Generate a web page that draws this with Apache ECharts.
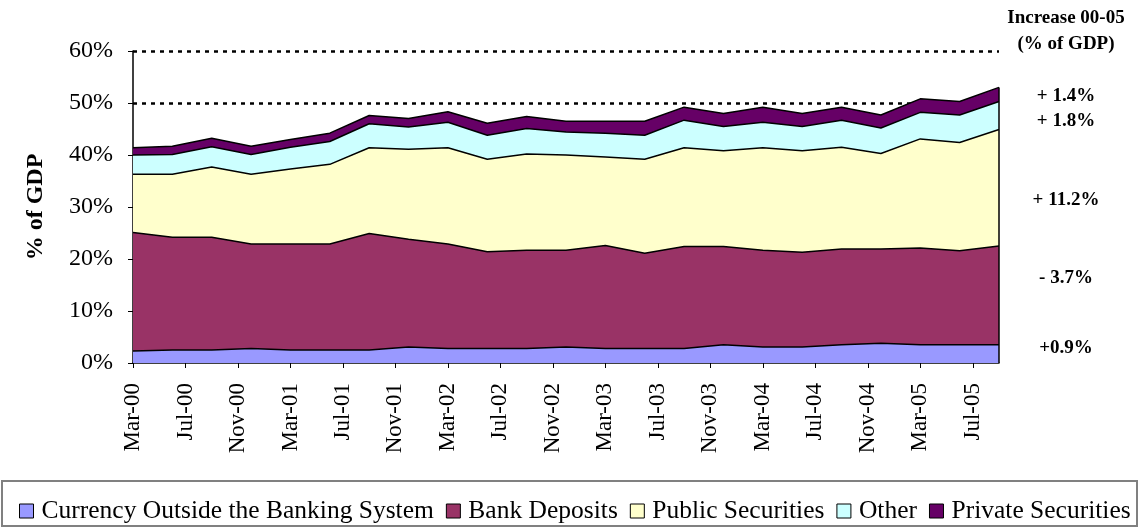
<!DOCTYPE html>
<html>
<head>
<meta charset="utf-8">
<script src="https://cdn.jsdelivr.net/npm/echarts@6/dist/echarts.min.js"></script>
<style>
  html, body { margin: 0; padding: 0; background: #fff; }
  #chart { width: 1139px; height: 529px; }
</style>
</head>
<body>
<div id="chart"></div>
<script>
// quarterly observations, Mar-00 .. Sep-05
const quarters = ['Mar-00', 'Jun-00', 'Sep-00', 'Dec-00', 'Mar-01', 'Jun-01', 'Sep-01', 'Dec-01',
  'Mar-02', 'Jun-02', 'Sep-02', 'Dec-02', 'Mar-03', 'Jun-03', 'Sep-03', 'Dec-03',
  'Mar-04', 'Jun-04', 'Sep-04', 'Dec-04', 'Mar-05', 'Jun-05', 'Sep-05']
// axis labels every 4 months
const tickLabels = ['Mar-00', 'Jul-00', 'Nov-00', 'Mar-01', 'Jul-01', 'Nov-01', 'Mar-02', 'Jul-02',
  'Nov-02', 'Mar-03', 'Jul-03', 'Nov-03', 'Mar-04', 'Jul-04', 'Nov-04', 'Mar-05', 'Jul-05']

const currency = [2.3, 2.5, 2.5, 2.8, 2.5, 2.5, 2.5, 3.1, 2.8, 2.8, 2.8, 3.1, 2.8, 2.8, 2.8, 3.5, 3.1, 3.1, 3.5, 3.8, 3.5, 3.5, 3.5]
const bankDeposits = [22.8, 21.7, 21.7, 20.1, 20.4, 20.4, 22.4, 20.7, 20.1, 18.6, 18.9, 18.6, 19.8, 18.3, 19.6, 18.9, 18.6, 18.2, 18.4, 18.1, 18.6, 18.1, 19.0]
const publicSec = [11.2, 12.1, 13.5, 13.4, 14.4, 15.3, 16.5, 17.3, 18.5, 17.8, 18.5, 18.3, 17.0, 18.1, 19.0, 18.4, 19.7, 19.5, 19.6, 18.4, 21.0, 20.8, 22.4]
const other = [3.7, 3.8, 3.9, 3.8, 4.2, 4.4, 4.6, 4.3, 4.9, 4.6, 4.9, 4.4, 4.6, 4.6, 5.3, 4.7, 4.9, 4.7, 5.2, 4.9, 5.1, 5.3, 5.4]
const privateSec = [1.4, 1.6, 1.6, 1.6, 1.5, 1.6, 1.6, 1.6, 2.0, 2.3, 2.3, 2.1, 2.3, 2.7, 2.5, 2.5, 2.9, 2.5, 2.5, 2.5, 2.6, 2.6, 2.7]

// increase 00-05 labels, from top layer to bottom layer
const increaseLabels = ['+ 1.4%', '+ 1.8%', '+ 11.2%', '- 3.7%', '+0.9%']

const FONT = '"Liberation Serif", "Times New Roman", serif'

const layers = [
  { name: 'Currency Outside the Banking System', data: currency, color: '#9999FF' },
  { name: 'Bank Deposits', data: bankDeposits, color: '#993366' },
  { name: 'Public Securities', data: publicSec, color: '#FFFFCC' },
  { name: 'Other', data: other, color: '#CCFFFF' },
  { name: 'Private Securities', data: privateSec, color: '#660066' }
]

// cumulative tops, month offset from Mar-00 on x
let running = quarters.map(() => 0)
layers.forEach((l) => {
  running = running.map((s, i) => s + l.data[i])
  l.points = running.map((v, i) => [i * 3, +v.toFixed(2)])
})
const lastX = (quarters.length - 1) * 3
const lastTotal = running[running.length - 1]

// draw the tallest layer first so the lower ones paint over it
const series = layers.slice().reverse().map((l) => ({
  name: l.name,
  type: 'line',
  data: l.points,
  symbol: 'none',
  itemStyle: { color: l.color },
  lineStyle: { color: '#000', width: 1.5 },
  areaStyle: { color: l.color, opacity: 1, origin: 'start' },
  emphasis: { disabled: true }
}))
// right-hand border of the stacked area
series[series.length - 1].markLine = {
  silent: true,
  symbol: 'none',
  label: { show: false },
  lineStyle: { color: '#000', width: 1.5, type: 'solid' },
  data: [[{ coord: [lastX, 0] }, { coord: [lastX, lastTotal] }]]
}

const labelYs = [96, 121, 200, 278, 348]
const tickValues = tickLabels.map((_, i) => i * 4)

const myEchart = echarts.init(document.getElementById('chart'))
myEchart.setOption({
  animation: false,
  grid: { left: 133, right: 140, top: 51, bottom: 166 },
  xAxis: {
    type: 'value',
    min: 0,
    max: lastX,
    axisLine: { lineStyle: { color: '#000', width: 1.5 } },
    axisTick: { length: 5, lineStyle: { color: '#000' }, customValues: tickValues },
    splitLine: { show: false },
    axisLabel: {
      customValues: tickValues,
      rotate: 90,
      margin: 20,
      color: '#000',
      fontFamily: FONT,
      fontSize: 23,
      formatter: (v) => tickLabels[v / 4] || ''
    }
  },
  yAxis: {
    type: 'value',
    min: 0,
    max: 60,
    interval: 10,
    name: '% of GDP',
    nameLocation: 'middle',
    nameGap: 85,
    nameTextStyle: { color: '#000', fontFamily: FONT, fontSize: 24, fontWeight: 'bold' },
    axisLine: { show: true, lineStyle: { color: '#000', width: 1.5 } },
    axisTick: { show: true, length: 5, lineStyle: { color: '#000' } },
    axisLabel: {
      margin: 20,
      color: '#000',
      fontFamily: FONT,
      fontSize: 24,
      formatter: '{value}%'
    },
    splitLine: {
      show: true,
      lineStyle: {
        color: ['rgba(0,0,0,0)', 'rgba(0,0,0,0)', 'rgba(0,0,0,0)', 'rgba(0,0,0,0)', 'rgba(0,0,0,0)', '#000', '#000'],
        width: 2.5,
        type: [4, 5]
      }
    }
  },
  legend: {
    data: layers.map((l) => l.name),
    left: 14,
    top: 493,
    itemWidth: 14,
    itemHeight: 14,
    itemGap: 12,
    icon: 'rect',
    itemStyle: { borderColor: '#000', borderWidth: 1 },
    textStyle: { color: '#000', fontFamily: FONT, fontSize: 25.5, padding: [0, 0, 0, 3] },
    selectedMode: false
  },
  graphic: [
    {
      type: 'rect',
      shape: { x: 2, y: 481, width: 1135, height: 45 },
      style: { fill: 'none', stroke: '#808080', lineWidth: 2 },
      silent: true
    },
    {
      type: 'text',
      x: 1066, y: 18,
      style: { text: 'Increase 00-05', fill: '#000', font: 'bold 19px ' + FONT, textAlign: 'center', textVerticalAlign: 'middle' }
    },
    {
      type: 'text',
      x: 1066, y: 44,
      style: { text: '(% of GDP)', fill: '#000', font: 'bold 19px ' + FONT, textAlign: 'center', textVerticalAlign: 'middle' }
    },
    ...increaseLabels.map((t, i) => ({
      type: 'text',
      x: 1066, y: labelYs[i],
      style: { text: t, fill: '#000', font: 'bold 19px ' + FONT, textAlign: 'center', textVerticalAlign: 'middle' }
    }))
  ],
  series
})
</script>
</body>
</html>
